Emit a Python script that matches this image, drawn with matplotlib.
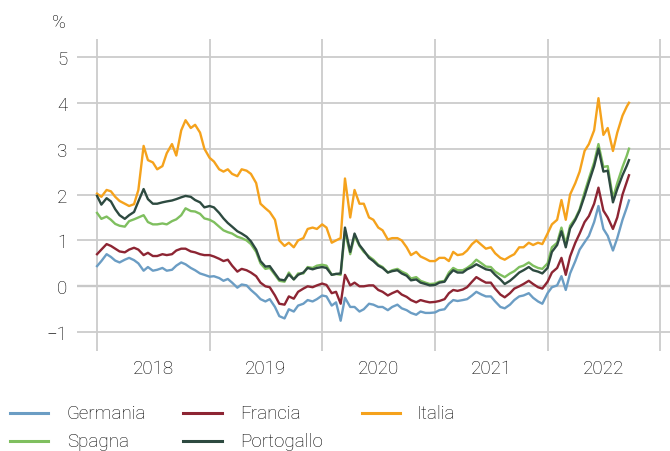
import pandas as pd
import matplotlib
matplotlib.use("Agg")
import matplotlib.pyplot as plt
from matplotlib.lines import Line2D
from matplotlib import font_manager

# 10-year yields, semi-monthly readings (1st and 15th) from Jan 2018 to Sep 2022
DATES = list(pd.date_range("2018-01-01", "2022-09-15", freq="SMS")) + [pd.Timestamp("2022-09-22")]

GERMANIA = [
    0.44, 0.55, 0.70, 0.64, 0.56, 0.52, 0.58, 0.62, 0.57, 0.50, 0.34, 0.42, 0.34, 0.36, 0.40, 0.34, 0.36, 0.45, 0.52, 0.48, 0.40, 0.35, 0.28, 0.25,
    0.21, 0.22, 0.18, 0.12, 0.16, 0.08, -0.03, 0.04, 0.02, -0.08, -0.18, -0.28, -0.33, -0.28, -0.45, -0.65, -0.70, -0.50, -0.55, -0.42, -0.38, -0.30, -0.33, -0.28,
    -0.20, -0.22, -0.42, -0.35, -0.75, -0.25, -0.45, -0.45, -0.55, -0.50, -0.38, -0.40, -0.45, -0.45, -0.52, -0.45, -0.40, -0.48, -0.52, -0.58, -0.62, -0.55, -0.58, -0.58,
    -0.57, -0.52, -0.50, -0.38, -0.30, -0.32, -0.30, -0.28, -0.20, -0.12, -0.18, -0.22, -0.22, -0.33, -0.45, -0.48, -0.40, -0.30, -0.22, -0.20, -0.15, -0.25, -0.33, -0.38,
    -0.15, -0.02, 0.02, 0.22, -0.08, 0.28, 0.55, 0.80, 0.96, 1.10, 1.40, 1.75, 1.25, 1.10, 0.78, 1.05, 1.45, 1.72, 1.87,
]
FRANCIA = [
    0.70, 0.80, 0.92, 0.88, 0.82, 0.76, 0.74, 0.80, 0.84, 0.80, 0.68, 0.73, 0.66, 0.66, 0.70, 0.68, 0.70, 0.78, 0.82, 0.82, 0.76, 0.74, 0.70, 0.68,
    0.68, 0.65, 0.60, 0.55, 0.58, 0.45, 0.32, 0.38, 0.35, 0.30, 0.22, 0.08, 0.00, -0.02, -0.20, -0.38, -0.40, -0.22, -0.27, -0.12, -0.05, 0.00, -0.02, 0.02,
    0.06, 0.03, -0.15, -0.12, -0.38, 0.25, 0.02, 0.08, 0.00, 0.00, 0.02, 0.02, -0.08, -0.12, -0.20, -0.15, -0.10, -0.18, -0.23, -0.30, -0.35, -0.30, -0.33, -0.35,
    -0.34, -0.32, -0.28, -0.15, -0.08, -0.10, -0.07, -0.02, 0.10, 0.20, 0.13, 0.08, 0.08, -0.05, -0.18, -0.24, -0.15, -0.05, 0.00, 0.05, 0.12, 0.05, -0.02, -0.05,
    0.10, 0.30, 0.40, 0.62, 0.25, 0.65, 0.95, 1.15, 1.40, 1.53, 1.80, 2.15, 1.65, 1.50, 1.25, 1.50, 2.00, 2.28, 2.42,
]
ITALIA = [
    2.02, 1.95, 2.10, 2.07, 1.95, 1.86, 1.80, 1.75, 1.79, 2.10, 3.06, 2.75, 2.70, 2.55, 2.62, 2.90, 3.10, 2.85, 3.40, 3.62, 3.45, 3.52, 3.35, 3.00,
    2.80, 2.72, 2.55, 2.50, 2.55, 2.45, 2.40, 2.55, 2.52, 2.45, 2.25, 1.80, 1.70, 1.62, 1.45, 1.00, 0.88, 0.95, 0.85, 1.00, 1.05, 1.25, 1.28, 1.25,
    1.35, 1.28, 0.95, 1.00, 1.05, 2.35, 1.50, 2.10, 1.80, 1.80, 1.50, 1.45, 1.28, 1.22, 1.02, 1.05, 1.05, 1.00, 0.85, 0.68, 0.75, 0.65, 0.60, 0.55,
    0.55, 0.62, 0.62, 0.55, 0.75, 0.68, 0.70, 0.78, 0.92, 1.00, 0.90, 0.82, 0.85, 0.72, 0.62, 0.58, 0.65, 0.70, 0.85, 0.85, 0.95, 0.90, 0.95, 0.92,
    1.15, 1.35, 1.45, 1.88, 1.45, 2.00, 2.25, 2.50, 2.95, 3.10, 3.40, 4.10, 3.30, 3.45, 2.95, 3.35, 3.72, 3.92, 4.00,
]
SPAGNA = [
    1.60, 1.47, 1.52, 1.45, 1.36, 1.32, 1.30, 1.42, 1.46, 1.50, 1.55, 1.40, 1.35, 1.35, 1.37, 1.35, 1.42, 1.46, 1.55, 1.70, 1.64, 1.63, 1.58, 1.48,
    1.45, 1.40, 1.30, 1.22, 1.18, 1.15, 1.08, 1.05, 1.00, 0.92, 0.75, 0.50, 0.38, 0.40, 0.25, 0.12, 0.10, 0.30, 0.15, 0.28, 0.28, 0.42, 0.40, 0.45,
    0.47, 0.45, 0.25, 0.27, 0.25, 1.20, 0.70, 1.10, 0.88, 0.75, 0.65, 0.58, 0.47, 0.42, 0.30, 0.35, 0.38, 0.32, 0.27, 0.17, 0.20, 0.12, 0.08, 0.05,
    0.06, 0.10, 0.12, 0.30, 0.40, 0.35, 0.35, 0.40, 0.48, 0.58, 0.50, 0.43, 0.42, 0.32, 0.25, 0.20, 0.28, 0.33, 0.42, 0.45, 0.52, 0.45, 0.40, 0.38,
    0.50, 0.85, 0.95, 1.28, 0.92, 1.32, 1.48, 1.68, 2.05, 2.35, 2.70, 3.10, 2.60, 2.62, 1.92, 2.25, 2.60, 2.85, 3.00,
]
PORTOGALLO = [
    1.97, 1.78, 1.92, 1.85, 1.68, 1.55, 1.47, 1.55, 1.62, 1.85, 2.12, 1.90, 1.80, 1.80, 1.83, 1.85, 1.87, 1.90, 1.94, 1.97, 1.95, 1.88, 1.83, 1.72,
    1.75, 1.72, 1.60, 1.48, 1.38, 1.30, 1.20, 1.15, 1.08, 0.98, 0.80, 0.55, 0.43, 0.44, 0.28, 0.15, 0.13, 0.26, 0.15, 0.25, 0.30, 0.40, 0.37, 0.40,
    0.42, 0.40, 0.25, 0.27, 0.28, 1.28, 0.75, 1.15, 0.90, 0.78, 0.62, 0.55, 0.45, 0.40, 0.30, 0.33, 0.35, 0.28, 0.23, 0.13, 0.15, 0.08, 0.05, 0.02,
    0.03, 0.08, 0.10, 0.25, 0.35, 0.30, 0.30, 0.37, 0.42, 0.48, 0.42, 0.37, 0.35, 0.25, 0.15, 0.05, 0.12, 0.20, 0.30, 0.35, 0.42, 0.35, 0.32, 0.28,
    0.40, 0.75, 0.90, 1.20, 0.85, 1.26, 1.45, 1.65, 1.97, 2.27, 2.62, 3.00, 2.50, 2.52, 1.83, 2.12, 2.42, 2.63, 2.75,
]

LABELS = ["Germania", "Francia", "Italia", "Spagna", "Portogallo"]
COLORS = ["#6b9dc4", "#8d2533", "#f5a21c", "#7fbf5f", "#2d4a40"]
SERIES = [GERMANIA, FRANCIA, ITALIA, SPAGNA, PORTOGALLO]
YTICKS = [-1, 0, 1, 2, 3, 4, 5]
YEARS = [2018, 2019, 2020, 2021, 2022]

W, H = 670, 452
installed = {f.name for f in font_manager.fontManager.ttflist}
fam = "Roboto" if "Roboto" in installed else "Liberation Sans"
plt.rcParams["font.family"] = [fam, "DejaVu Sans"]
TXT = "#000000"
FS = 13.5
WEIGHT = "light"

fig = plt.figure(figsize=(W / 100, H / 100), dpi=100)
ax = fig.add_axes([77 / W, 1 - 352 / H, 1 - 77 / W, (352 - 40) / H])

for vals, col in zip(SERIES, COLORS):
    ax.plot(DATES, vals, color=col, lw=1.7, solid_joinstyle="round", zorder=3)

ax.set_ylim(-1.41, 5.39)
ax.set_yticks(YTICKS)
ax.set_yticklabels(["\u22121" if v < 0 else str(v) for v in YTICKS], fontweight=WEIGHT)
ax.set_xlim(pd.Timestamp("2017-10-28"), pd.Timestamp("2023-02-02"))
ax.set_xticks([pd.Timestamp(f"{y}-01-01") for y in YEARS + [2023]])
ax.set_xticklabels([])
ax.set_xticks([pd.Timestamp(f"{y}-07-02") for y in YEARS], minor=True)
ax.set_xticklabels([str(y) for y in YEARS], minor=True, fontweight=WEIGHT)

ax.grid(True, which="major", color="#cccccc", lw=1.3, zorder=0)
ax.axhline(0, color="#a8a8a8", lw=1.6, zorder=1)
ax.tick_params(axis="both", which="both", length=0, labelsize=FS, labelcolor=TXT)
ax.tick_params(axis="y", pad=7)
ax.tick_params(axis="x", which="minor", pad=6)
for s in ax.spines.values():
    s.set_visible(False)

fig.text(66 / W, 1 - 23 / H, "%", ha="right", va="center", fontsize=FS, color=TXT, fontweight=WEIGHT)

# legend drawn by hand: 3 columns, 2 rows
cols_x = [(10, 48, 67), (183, 222, 240), (362, 400, 417)]
rows_y = [414, 442]
order = [(0, 0, 0), (1, 1, 0), (2, 2, 0), (3, 0, 1), (4, 1, 1)]
for i, c, r in order:
    x0, x1, xt = cols_x[c]
    yy = 1 - rows_y[r] / H
    fig.add_artist(Line2D([x0 / W, x1 / W], [yy, yy], transform=fig.transFigure,
                          color=COLORS[i], lw=2.2))
    fig.text(xt / W, yy, LABELS[i], ha="left", va="center", fontsize=FS, color=TXT, fontweight=WEIGHT)

fig.savefig("out.png", dpi=100)
